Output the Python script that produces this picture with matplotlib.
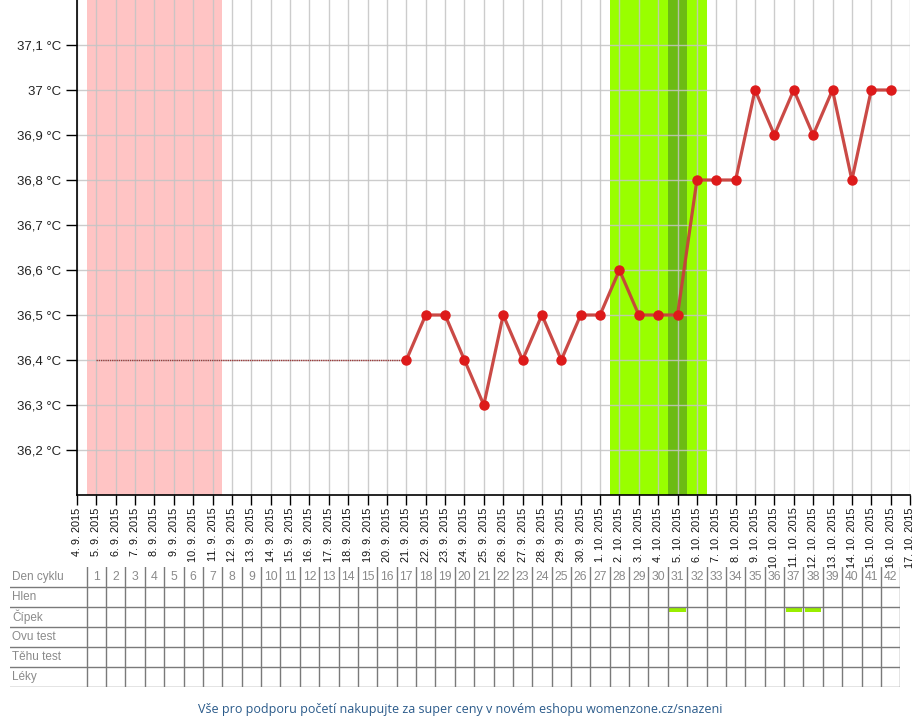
#!/usr/bin/env python3
"""Basal body temperature chart with cycle table underneath."""

import matplotlib
matplotlib.use("Agg")
import matplotlib.pyplot as plt
import pandas as pd

plt.rcParams["font.family"] = ["Liberation Sans", "DejaVu Sans"]

# --- data -------------------------------------------------------------
dates = pd.date_range("2015-09-04", "2015-10-17", freq="D")
date_labels = [f"{d.day}. {d.month}. {d.year}" for d in dates]

# measured temperatures, from cycle day 17 (21.9.2015) on
temp_start_day = 17
temps = [36.4, 36.5, 36.5, 36.4, 36.3, 36.5, 36.4, 36.5, 36.4, 36.5,
         36.5, 36.6, 36.5, 36.5, 36.5, 36.8, 36.8, 36.8, 37.0, 36.9,
         37.0, 36.9, 37.0, 36.8, 37.0, 37.0]
# no measurements before: dotted connector at the first value
gap_start_day = 1

y_ticks = [36.2, 36.3, 36.4, 36.5, 36.6, 36.7, 36.8, 36.9, 37.0, 37.1]
y_labels = ["36,2 °C", "36,3 °C", "36,4 °C", "36,5 °C", "36,6 °C",
            "36,7 °C", "36,8 °C", "36,9 °C", "37 °C", "37,1 °C"]

period_days = (1, 7)
fertile_days = (28, 32)
ovulation_day = 31

n_days = 42
row_names = ["Den cyklu", "Hlen", "Čípek", "Ovu test", "Těhu test", "Léky"]
cipek_days = [31, 37, 38]

footer = ("Vše pro podporu početí nakupujte za super ceny "
          "v novém eshopu womenzone.cz/snazeni")

# --- layout (pixels of a 920x720 canvas) --------------------------------
W, H = 920, 720
px_left, px_right = 77, 910
px_top, px_bottom = 0, 495
step = (px_right - px_left) / 43.0

fig = plt.figure(figsize=(W / 100, H / 100), dpi=100)

ax = fig.add_axes([px_left / W, 1 - px_bottom / H,
                   (px_right - px_left) / W, (px_bottom - px_top) / H])
ax.set_xlim(0, 43)
ax.set_ylim(36.1, 37.2)

ax.axvspan(period_days[0] - 0.5, period_days[1] + 0.5,
           color="#ffc4c4", lw=0, zorder=0)
ax.axvspan(fertile_days[0] - 0.5, fertile_days[1] + 0.5,
           color="#99ff00", lw=0, zorder=0)
ax.axvspan(ovulation_day - 0.5, ovulation_day + 0.5,
           color="#6cbb14", lw=0, zorder=0)

ax.set_xticks(range(len(date_labels)))
ax.set_xticklabels(date_labels, rotation=90, fontsize=7.8, color="#111")
ax.set_yticks(y_ticks)
ax.set_yticklabels(y_labels, fontsize=9.5, color="#222")
ax.tick_params(axis="both", direction="out", length=8, width=1, color="black")
ax.tick_params(axis="x", length=7, pad=2)
ax.grid(True, color="#c4c4c4", alpha=0.85, lw=1.0, zorder=1)
ax.set_axisbelow(False)
for side in ("top", "right"):
    ax.spines[side].set_visible(False)
for side in ("left", "bottom"):
    ax.spines[side].set_linewidth(1.2)
    ax.spines[side].set_zorder(5)

x_temp = list(range(temp_start_day, temp_start_day + len(temps)))
ax.plot([gap_start_day, temp_start_day], [temps[0], temps[0]],
        color="#9a3a3a", lw=1.0, ls=(0, (1, 0.6)), zorder=3)
ax.plot(x_temp, temps, color="#c8403c", lw=2.3, alpha=0.95, zorder=3,
        solid_joinstyle="round")
ax.plot(x_temp, temps, ls="none", marker="o", ms=6.5,
        mfc="#dd1a1a", mec="#dd1a1a", zorder=4)

# --- table ----------------------------------------------------------------
tab_left, tab_right = 10, px_left + step * (n_days + 0.5)
tab_top, tab_bottom = 567, 687
tx = fig.add_axes([tab_left / W, 1 - tab_bottom / H,
                   (tab_right - tab_left) / W, (tab_bottom - tab_top) / H])
tx.set_xlim((tab_left - px_left) / step, n_days + 0.5)
tx.set_ylim(len(row_names), 0)
tx.axis("off")

line_kw = dict(color="#7a7a7a", lw=1.0)
x0 = (tab_left - px_left) / step
for r in range(1, len(row_names) + 1):
    tx.plot([x0, n_days + 0.5], [r, r], **line_kw)
for d in range(0, n_days + 1):
    tx.plot([d + 0.5, d + 0.5], [0, len(row_names)], **line_kw)

for r, name in enumerate(row_names):
    tx.text(x0 + 0.1, r + 0.5, name, ha="left", va="center",
            fontsize=8.5, color="#8a8a8a")
for d in range(1, n_days + 1):
    tx.text(d, 0.5, str(d), ha="center", va="center",
            fontsize=8.8, color="#8a8a8a")

cip_row = row_names.index("Čípek")
tx.bar(cipek_days, 0.2, width=0.85, bottom=cip_row + 0.06,
       color="#99ee00", lw=0)

fig.text(460 / W, 1 - 709 / H, footer, ha="center", va="center",
         fontsize=9, color="#2a5a8a", family=["Open Sans", "DejaVu Sans"])

fig.savefig("out.png", dpi=100)
